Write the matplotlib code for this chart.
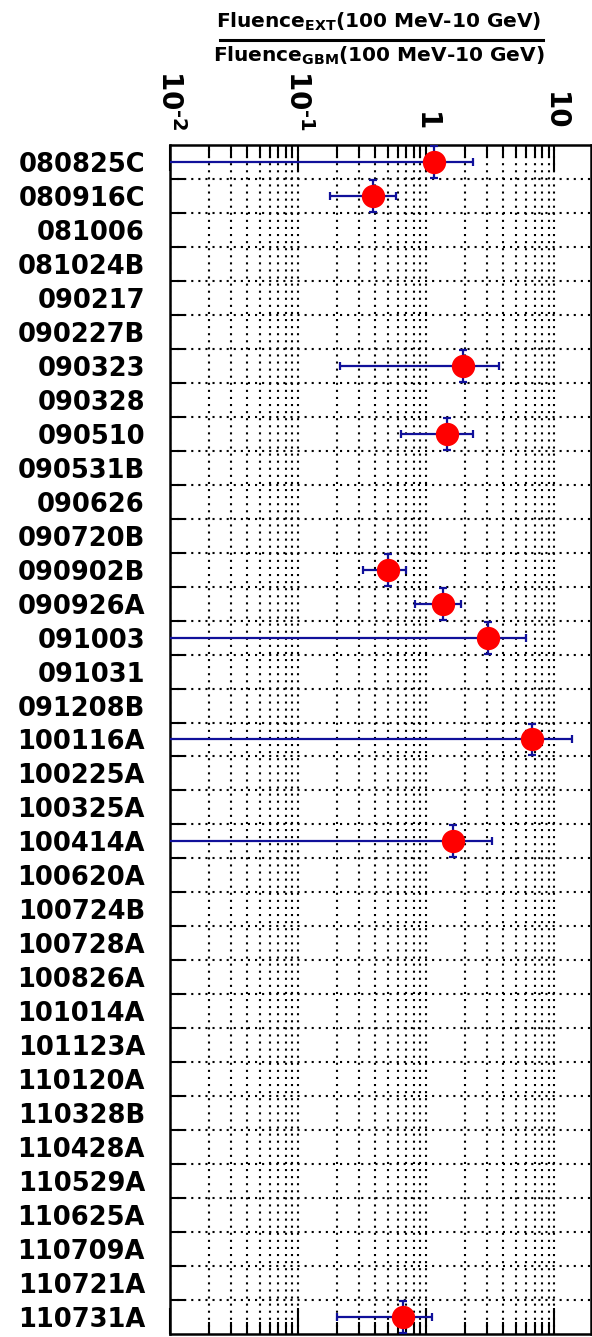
import numpy as np
import matplotlib
matplotlib.use("Agg")
import matplotlib.pyplot as plt
from matplotlib.lines import Line2D
from matplotlib.ticker import FixedLocator, FixedFormatter, LogLocator, NullFormatter

plt.rcParams['font.family'] = ['DejaVu Sans']
plt.rcParams['font.weight'] = 'bold'
plt.rcParams['mathtext.fontset'] = 'custom'
plt.rcParams['mathtext.rm'] = 'DejaVu Sans:bold'
plt.rcParams['mathtext.it'] = 'DejaVu Sans:bold'
plt.rcParams['mathtext.bf'] = 'DejaVu Sans:bold'
plt.rcParams['mathtext.sf'] = 'DejaVu Sans:bold'

grbs = ['080825C', '080916C', '081006', '081024B', '090217', '090227B',
        '090323', '090328', '090510', '090531B', '090626', '090720B',
        '090902B', '090926A', '091003', '091031', '091208B', '100116A',
        '100225A', '100325A', '100414A', '100620A', '100724B', '100728A',
        '100826A', '101014A', '101123A', '110120A', '110328B', '110428A',
        '110529A', '110625A', '110709A', '110721A', '110731A']

# bursts with a measured ratio; lower edge 0 means the error bar runs off the axis
meas_grb = ['080825C', '080916C', '090323', '090510', '090902B',
            '090926A', '091003', '100116A', '100414A', '110731A']
ratio = np.array([1.15, 0.384, 1.94, 1.46, 0.50, 1.34, 3.01, 6.70, 1.63, 0.656])
ratio_lo = np.array([0.0, 0.177, 0.211, 0.632, 0.318, 0.818, 0.0, 0.0, 0.0, 0.201])
ratio_hi = np.array([2.30, 0.582, 3.69, 2.30, 0.696, 1.85, 5.98, 13.6, 3.23, 1.10])

xticks = [0.01, 0.1, 1, 10]
xticklabels = [r'$10^{\text{-}2}$', r'$10^{\text{-}1}$', '1', '10']

n = len(grbs)
ypos = np.array([grbs.index(g) for g in meas_grb])
lo = np.maximum(ratio_lo, 1e-4)

W, H = 592, 1337
fig = plt.figure(figsize=(W / 100, H / 100), dpi=100)
ax = fig.add_axes([170 / W, 3 / H, 421 / W, 1189 / H])

ax.errorbar(ratio, ypos, xerr=[ratio - lo, ratio_hi - ratio], yerr=0.47,
            fmt='none', ecolor='#10109a', elinewidth=1.6, capsize=3,
            capthick=1.6, zorder=3)
ax.plot(ratio, ypos, 'o', color='#ff0000', markersize=16.8, mec='none', zorder=4)

ax.set_xscale('log')
ax.set_xlim(0.01, 19.3)
ax.set_ylim(n - 0.5, -0.5)

# x axis: labels on top, rotated; ticks on both sides
ax.xaxis.set_major_locator(FixedLocator(xticks))
ax.xaxis.set_major_formatter(FixedFormatter(xticklabels))
ax.xaxis.set_minor_locator(LogLocator(base=10, subs=np.arange(2, 10)))
ax.xaxis.set_minor_formatter(NullFormatter())
ax.tick_params(axis='x', which='both', direction='in', top=True, bottom=True,
               labeltop=True, labelbottom=False, width=1.5)
ax.tick_params(axis='x', which='major', length=19, pad=10, labelsize=20,
               labelrotation=-90)
ax.tick_params(axis='x', which='minor', length=9)

# y axis: names at row centres, ticks and grid at row boundaries
ax.set_yticks(np.arange(n))
ax.set_yticklabels(grbs)
ax.set_yticks(np.arange(n - 1) + 0.5, minor=True)
ax.tick_params(axis='y', which='major', length=0, pad=18, labelsize=18.5)
ax.tick_params(axis='y', which='minor', direction='in', length=11, width=1.5,
               left=True, right=False)

dots = dict(color='black', linestyle=(0, (1, 2.4)), linewidth=1.5)
ax.grid(True, axis='x', which='both', **dots)
ax.grid(True, axis='y', which='minor', **dots)
ax.set_axisbelow(True)

for s in ax.spines.values():
    s.set_linewidth(1.8)

# axis title written as a fraction above the plot
cx = 379 / W
fig.text(cx, 1 - 28 / H, r'Fluence$_{\rm EXT}$(100 MeV-10 GeV)',
         ha='center', va='baseline', fontsize=14.5, fontweight='bold')
fig.text(cx, 1 - 62 / H, r'Fluence$_{\rm GBM}$(100 MeV-10 GeV)',
         ha='center', va='baseline', fontsize=14.5, fontweight='bold')
fig.add_artist(Line2D([220 / W, 543 / W], [1 - 40 / H] * 2, lw=2.2,
                      color='black', transform=fig.transFigure))

fig.savefig('out.png', dpi=100)
